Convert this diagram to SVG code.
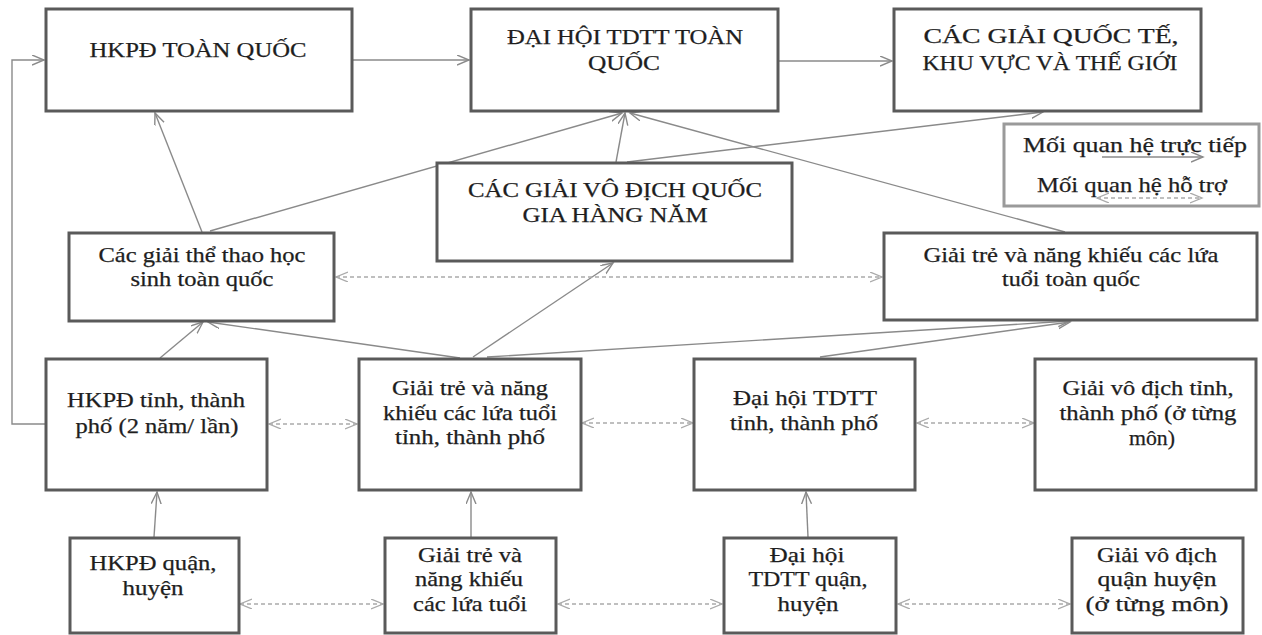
<svg xmlns="http://www.w3.org/2000/svg" width="1262" height="635" viewBox="0 0 1262 635">
<style>
.box{fill:#fff;stroke:#5a5a5a;stroke-width:3}
.leg{fill:#fff;stroke:#9a9a9a;stroke-width:3}
.t{font-family:"Liberation Serif","Times New Roman",serif;font-size:21px;fill:#1e1e1e;stroke:#1e1e1e;stroke-width:0.25;text-anchor:middle}
.c{fill:none;stroke:#8a8a8a;stroke-width:1.4}
.d{fill:none;stroke:#aaaaaa;stroke-width:1.3;stroke-dasharray:4 3}
</style>
<defs>
<marker id="a" markerUnits="userSpaceOnUse" markerWidth="14" markerHeight="12" refX="12" refY="5" orient="auto-start-reverse" viewBox="0 0 14 12">
<path d="M0,0 L12,5 L0,10" fill="none" stroke="#8a8a8a" stroke-width="1.4"/>
</marker>
<marker id="ad" markerUnits="userSpaceOnUse" markerWidth="14" markerHeight="12" refX="12" refY="5" orient="auto-start-reverse" viewBox="0 0 14 12">
<path d="M0,0 L12,5 L0,10" fill="none" stroke="#aaaaaa" stroke-width="1.3"/>
</marker>
</defs>
<rect width="1262" height="635" fill="#fff"/>
<g id="connectors">
<line class="c" x1="353" y1="60" x2="469" y2="60" marker-end="url(#a)"/>
<line class="c" x1="779" y1="61" x2="892" y2="61" marker-end="url(#a)"/>
<polyline class="c" points="46,424 12,424 12,60 44,60" marker-end="url(#a)"/>
<line class="c" x1="202" y1="232" x2="155" y2="113" marker-end="url(#a)"/>
<line class="c" x1="210" y1="231" x2="622" y2="113" marker-end="url(#a)"/>
<line class="c" x1="616" y1="162" x2="625" y2="113" marker-end="url(#a)"/>
<line class="c" x1="627" y1="162" x2="1043" y2="112" marker-end="url(#a)"/>
<line class="c" x1="1065" y1="232" x2="630" y2="113" marker-end="url(#a)"/>
<line class="c" x1="160" y1="358" x2="203" y2="322" marker-end="url(#a)"/>
<line class="c" x1="460" y1="358" x2="208" y2="322" marker-end="url(#a)"/>
<line class="c" x1="473" y1="357" x2="613" y2="263" marker-end="url(#a)"/>
<line class="c" x1="487" y1="357" x2="1070" y2="321" marker-end="url(#a)"/>
<line class="c" x1="820" y1="357" x2="1070" y2="322" marker-end="url(#a)"/>
<line class="c" x1="154" y1="537" x2="157" y2="492" marker-end="url(#a)"/>
<line class="c" x1="471" y1="537" x2="471" y2="492" marker-end="url(#a)"/>
<line class="c" x1="808" y1="537" x2="806" y2="492" marker-end="url(#a)"/>
<line class="d" x1="336" y1="277" x2="882" y2="277" marker-start="url(#ad)" marker-end="url(#ad)"/>
<line class="d" x1="269" y1="424" x2="357" y2="424" marker-start="url(#ad)" marker-end="url(#ad)"/>
<line class="d" x1="582" y1="423" x2="693" y2="423" marker-start="url(#ad)" marker-end="url(#ad)"/>
<line class="d" x1="917" y1="423" x2="1034" y2="423" marker-start="url(#ad)" marker-end="url(#ad)"/>
<line class="d" x1="240" y1="604" x2="383" y2="604" marker-start="url(#ad)" marker-end="url(#ad)"/>
<line class="d" x1="558" y1="604" x2="722" y2="604" marker-start="url(#ad)" marker-end="url(#ad)"/>
<line class="d" x1="898" y1="604" x2="1070" y2="604" marker-start="url(#ad)" marker-end="url(#ad)"/>
</g>
<g id="n1"><rect class="box" x="46" y="9" width="306" height="102"/>
<text class="t" x="198" y="57" textLength="217" lengthAdjust="spacingAndGlyphs">HKPĐ TOÀN QUỐC</text></g>
<g id="n2"><rect class="box" x="471" y="9" width="307" height="102"/>
<text class="t" x="625" y="44" textLength="236" lengthAdjust="spacingAndGlyphs">ĐẠI HỘI TDTT TOÀN</text>
<text class="t" x="624" y="70" textLength="72" lengthAdjust="spacingAndGlyphs">QUỐC</text></g>
<g id="n3"><rect class="box" x="894" y="9" width="307" height="102"/>
<text class="t" x="1051" y="43" textLength="255" lengthAdjust="spacingAndGlyphs">CÁC GIẢI QUỐC TẾ,</text>
<text class="t" x="1050" y="70" textLength="255" lengthAdjust="spacingAndGlyphs">KHU VỰC VÀ THẾ GIỚI</text></g>
<g id="legend"><rect class="leg" x="1004" y="124" width="255" height="82"/>
<text class="t" x="1135" y="152" textLength="224" lengthAdjust="spacingAndGlyphs">Mối quan hệ trực tiếp</text>
<text class="t" x="1132" y="192" textLength="190" lengthAdjust="spacingAndGlyphs">Mối quan hệ hỗ trợ</text>
<line class="c" x1="1102" y1="157" x2="1203" y2="157" marker-end="url(#a)"/>
<line class="d" x1="1097" y1="198" x2="1202" y2="198" marker-start="url(#ad)" marker-end="url(#ad)"/></g>
<g id="n4"><rect class="box" x="437" y="163" width="355" height="98"/>
<text class="t" x="615" y="197" textLength="294" lengthAdjust="spacingAndGlyphs">CÁC GIẢI VÔ ĐỊCH QUỐC</text>
<text class="t" x="615" y="222" textLength="185" lengthAdjust="spacingAndGlyphs">GIA HÀNG NĂM</text></g>
<g id="n5"><rect class="box" x="69" y="233" width="265" height="88"/>
<text class="t" x="202" y="262" textLength="207" lengthAdjust="spacingAndGlyphs">Các giải thể thao học</text>
<text class="t" x="202" y="286" textLength="143" lengthAdjust="spacingAndGlyphs">sinh toàn quốc</text></g>
<g id="n6"><rect class="box" x="884" y="233" width="373" height="87"/>
<text class="t" x="1071" y="262" textLength="295" lengthAdjust="spacingAndGlyphs">Giải trẻ và năng khiếu các lứa</text>
<text class="t" x="1071" y="286" textLength="138" lengthAdjust="spacingAndGlyphs">tuổi toàn quốc</text></g>
<g id="n7"><rect class="box" x="46" y="359" width="221" height="131"/>
<text class="t" x="156" y="407" textLength="178" lengthAdjust="spacingAndGlyphs">HKPĐ tỉnh, thành</text>
<text class="t" x="157" y="433" textLength="163" lengthAdjust="spacingAndGlyphs">phố (2 năm/ lần)</text></g>
<g id="n8"><rect class="box" x="359" y="359" width="222" height="131"/>
<text class="t" x="470" y="395" textLength="156" lengthAdjust="spacingAndGlyphs">Giải trẻ và năng</text>
<text class="t" x="470" y="420" textLength="174" lengthAdjust="spacingAndGlyphs">khiếu các lứa tuổi</text>
<text class="t" x="470" y="444" textLength="150" lengthAdjust="spacingAndGlyphs">tỉnh, thành phố</text></g>
<g id="n9"><rect class="box" x="694" y="359" width="221" height="131"/>
<text class="t" x="805" y="405" textLength="144" lengthAdjust="spacingAndGlyphs">Đại hội TDTT</text>
<text class="t" x="804" y="430" textLength="148" lengthAdjust="spacingAndGlyphs">tỉnh, thành phố</text></g>
<g id="n10"><rect class="box" x="1035" y="359" width="221" height="131"/>
<text class="t" x="1148" y="395" textLength="171" lengthAdjust="spacingAndGlyphs">Giải vô địch tỉnh,</text>
<text class="t" x="1148" y="420" textLength="177" lengthAdjust="spacingAndGlyphs">thành phố (ở từng</text>
<text class="t" x="1152" y="445" textLength="46" lengthAdjust="spacingAndGlyphs">môn)</text></g>
<g id="n11"><rect class="box" x="70" y="538" width="169" height="95"/>
<text class="t" x="153" y="570" textLength="127" lengthAdjust="spacingAndGlyphs">HKPĐ quận,</text>
<text class="t" x="153" y="595" textLength="61" lengthAdjust="spacingAndGlyphs">huyện</text></g>
<g id="n12"><rect class="box" x="385" y="538" width="171" height="95"/>
<text class="t" x="470" y="562" textLength="104" lengthAdjust="spacingAndGlyphs">Giải trẻ và</text>
<text class="t" x="469" y="586" textLength="108" lengthAdjust="spacingAndGlyphs">năng khiếu</text>
<text class="t" x="470" y="611" textLength="114" lengthAdjust="spacingAndGlyphs">các lứa tuổi</text></g>
<g id="n13"><rect class="box" x="724" y="538" width="172" height="95"/>
<text class="t" x="807" y="562" textLength="75" lengthAdjust="spacingAndGlyphs">Đại hội</text>
<text class="t" x="808" y="586" textLength="119" lengthAdjust="spacingAndGlyphs">TDTT quận,</text>
<text class="t" x="808" y="611" textLength="61" lengthAdjust="spacingAndGlyphs">huyện</text></g>
<g id="n14"><rect class="box" x="1072" y="538" width="171" height="95"/>
<text class="t" x="1157" y="562" textLength="120" lengthAdjust="spacingAndGlyphs">Giải vô địch</text>
<text class="t" x="1157" y="586" textLength="119" lengthAdjust="spacingAndGlyphs">quận huyện</text>
<text class="t" x="1157" y="611" textLength="143" lengthAdjust="spacingAndGlyphs">(ở từng môn)</text></g>
</svg>
